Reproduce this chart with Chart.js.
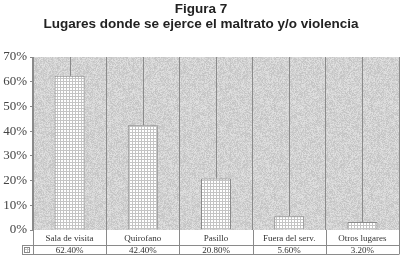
<!DOCTYPE html>
<html lang="es">
<head>
  <meta charset="UTF-8">
  <title>Figura 7</title>
  <script src="https://cdn.jsdelivr.net/npm/chart.js"></script>
  <style>
    html, body { margin: 0; padding: 0; background: #fff; }
    #wrap { width: 415px; height: 268px; }
  </style>
</head>
<body>
  <div id="wrap"><canvas id="chart" width="415" height="268"></canvas></div>
  <script>
    // Data
    const categories = ['Sala de visita', 'Quirofano', 'Pasillo', 'Fuera del serv.', 'Otros lugares'];
    const values = [62.4, 42.4, 20.8, 5.6, 3.2];
    const valueLabels = ['62.40%', '42.40%', '20.80%', '5.60%', '3.20%'];
    const titleLines = ['Figura 7', 'Lugares donde se ejerce el maltrato y/o violencia'];

    const serif = '"Liberation Serif", "DejaVu Serif", serif';

    // speckled gray background for the plot area (fixed xorshift texture)
    function noisePattern(ctx) {
      const c = document.createElement('canvas');
      c.width = 97; c.height = 89;
      const g = c.getContext('2d');
      const img = g.createImageData(97, 89);
      let s = 2463534242;
      for (let i = 0; i < 97 * 89; i++) {
        s ^= s << 13; s >>>= 0;
        s ^= s >>> 17;
        s ^= s << 5; s >>>= 0;
        const v = 194 + (s % 32);
        img.data[i * 4] = v; img.data[i * 4 + 1] = v; img.data[i * 4 + 2] = v; img.data[i * 4 + 3] = 255;
      }
      g.putImageData(img, 0, 0);
      return ctx.createPattern(c, 'repeat');
    }

    // white grid pattern for the bars
    function gridPattern(ctx) {
      const c = document.createElement('canvas');
      c.width = 3; c.height = 3;
      const g = c.getContext('2d');
      g.fillStyle = '#ffffff';
      g.fillRect(0, 0, 3, 3);
      g.fillStyle = '#c4c4c4';
      g.fillRect(0, 0, 3, 1);
      g.fillRect(0, 0, 1, 3);
      return ctx.createPattern(c, 'repeat');
    }

    const canvas = document.getElementById('chart');
    const ctx = canvas.getContext('2d');
    const barFill = gridPattern(ctx);
    const plotFill = noisePattern(ctx);

    const decor = {
      id: 'decor',
      beforeDraw(chart) {
        const { ctx, chartArea: a } = chart;
        ctx.save();
        ctx.fillStyle = plotFill;
        ctx.fillRect(a.left, a.top, a.right - a.left, a.bottom - a.top);
        ctx.restore();
      },
      beforeDatasetsDraw(chart) {
        // thin lines from the top down to each bar
        const { ctx, chartArea: a, scales } = chart;
        ctx.save();
        ctx.strokeStyle = '#8a8a8a';
        ctx.lineWidth = 1;
        values.forEach((v, i) => {
          const x = Math.round(scales.x.getPixelForValue(i)) + 0.5;
          ctx.beginPath();
          ctx.moveTo(x, a.top);
          ctx.lineTo(x, scales.y.getPixelForValue(v));
          ctx.stroke();
        });
        ctx.restore();
      },
      afterDraw(chart) {
        const { ctx, chartArea: a, scales } = chart;
        const x = scales.x;
        const row1 = a.bottom + 15.5, row2 = a.bottom + 24.5;
        ctx.save();
        // title
        ctx.fillStyle = '#222';
        ctx.font = 'bold 13.5px "Liberation Sans", Arial, sans-serif';
        ctx.textAlign = 'center';
        ctx.textBaseline = 'middle';
        ctx.fillText(titleLines[0], 201, 9);
        ctx.fillText(titleLines[1], 201, 24);

        // data table lines
        ctx.strokeStyle = '#8a8a8a';
        ctx.lineWidth = 1;
        ctx.beginPath();
        ctx.moveTo(22, row1); ctx.lineTo(a.right, row1);
        ctx.moveTo(22, row2); ctx.lineTo(a.right, row2);
        ctx.moveTo(22.5, row1); ctx.lineTo(22.5, row2);
        for (let i = 0; i <= categories.length; i++) {
          const px = Math.round(i < categories.length ? x.getPixelForValue(i) - x.width / categories.length / 2 : a.right) + 0.5;
          ctx.moveTo(px, a.bottom); ctx.lineTo(px, row2);
        }
        ctx.stroke();

        // legend key
        ctx.fillStyle = barFill;
        ctx.fillRect(24, row1 + 2.5, 5, 5);
        ctx.strokeRect(24.5, row1 + 2, 5, 5);

        // values row, clipped at the bottom like the original
        ctx.beginPath();
        ctx.rect(a.left, row1, a.right - a.left, row2 - row1);
        ctx.clip();
        ctx.fillStyle = '#333';
        ctx.font = '9px ' + serif;
        ctx.textBaseline = 'middle';
        valueLabels.forEach((t, i) => {
          ctx.fillText(t, x.getPixelForValue(i), row1 + 5.5);
        });
        ctx.restore();
      }
    };

    new Chart(ctx, {
      type: 'bar',
      data: {
        labels: categories,
        datasets: [{
          data: values,
          backgroundColor: barFill,
          borderColor: '#8a8a8a',
          borderWidth: 1,
          categoryPercentage: 1,
          barPercentage: 0.41
        }]
      },
      options: {
        responsive: false,
        animation: false,
        layout: { padding: { top: 57, right: 16, bottom: 0, left: 0 } },
        plugins: {
          legend: { display: false },
          tooltip: { enabled: false }
        },
        scales: {
          x: {
            grid: { color: '#8a8a8a', drawTicks: false },
            border: { display: false },
            ticks: {
              font: { family: serif, size: 9 },
              color: '#333',
              padding: 3,
              maxRotation: 0,
              autoSkip: false
            },
            afterFit(s) { s.height = 38; }
          },
          y: {
            min: 0,
            max: 70,
            ticks: {
              stepSize: 10,
              callback: v => v + '%',
              font: { family: serif, size: 13 },
              color: '#444',
              padding: 3
            },
            grid: { drawOnChartArea: false, tickLength: 3, color: '#8a8a8a' },
            border: { color: '#8a8a8a' },
            afterFit(s) { s.width = 33; }
          }
        }
      },
      plugins: [decor]
    });
  </script>
</body>
</html>
